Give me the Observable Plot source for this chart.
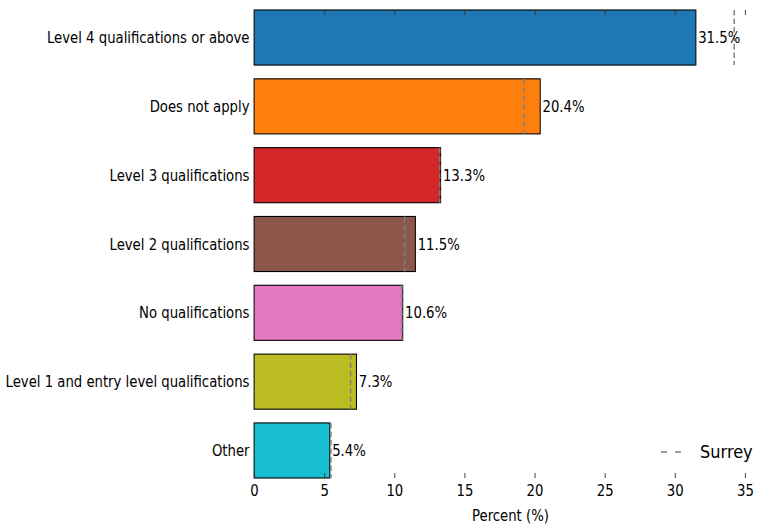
<!DOCTYPE html>
<html>
<head>
<meta charset="utf-8">
<script src="https://cdn.jsdelivr.net/npm/d3@7"></script>
<script src="https://cdn.jsdelivr.net/npm/@observablehq/plot@0.6"></script>
<style>
  html, body { margin: 0; padding: 0; background: #fff; }
  #wrap { position: relative; width: 774px; height: 532px; font-family: "DejaVu Sans Condensed", "DejaVu Sans", sans-serif; font-stretch: condensed; overflow: hidden; }
  #legend { position: absolute; left: 658px; top: 441px; font-size: 18px; display: flex; align-items: center; color: #000; white-space: nowrap; }
  #legend span { margin-left: 16px; }
</style>
</head>
<body>
<div id="wrap">
  <div id="chart"></div>
  <div id="legend"><svg width="26" height="10"><line x1="3" y1="5" x2="24" y2="5" stroke="#808080" stroke-width="1.5" stroke-dasharray="6,8"></line></svg><span>Surrey</span></div>
</div>
<script>
const categories = [
  "Level 4 qualifications or above",
  "Does not apply",
  "Level 3 qualifications",
  "Level 2 qualifications",
  "No qualifications",
  "Level 1 and entry level qualifications",
  "Other"
];
const values = [31.5, 20.4, 13.3, 11.5, 10.6, 7.3, 5.4];
const surrey = [34.2, 19.2, 13.2, 10.7, 10.5, 6.85, 5.45];
const colors = ["#1f77b4", "#ff7f0e", "#d62728", "#8c564b", "#e377c2", "#bcbd22", "#17becf"];
const xTicks = [0, 5, 10, 15, 20, 25, 30, 35];
const xMax = 36.5;

const data = categories.map((c, i) => ({category: c, value: values[i], surrey: surrey[i], color: colors[i]}));

// The reference is slightly compressed horizontally; draw on a wider canvas and squeeze it.
const SX = 0.92;
const W = 774, H = 532, mt = 10, mb = 54;
const Wi = Math.round(W / SX);
const inner = H - mt - mb;

const chart = Plot.plot({
  width: Wi,
  height: H,
  marginLeft: 254 / SX,
  marginRight: 8 / SX,
  marginTop: mt,
  marginBottom: mb,
  style: {fontFamily: '"DejaVu Sans Condensed", "DejaVu Sans", sans-serif', fontStretch: "condensed", fontSize: "16px", color: "#000", overflow: "visible"},
  x: {domain: [0, xMax], ticks: xTicks, label: "Percent (%)"},
  y: {domain: categories, paddingInner: 0.2, paddingOuter: 0, round: false, label: null},
  marks: [
    Plot.barX(data, {x: "value", y: "category", fill: "color", stroke: "#000", strokeWidth: 1.1}),
    Plot.tickX(data, {x: "surrey", y: "category", stroke: "#808080", strokeWidth: 1.6, strokeDasharray: "5.5,3"}),
    Plot.text(data, {x: "value", y: "category", text: d => d.value.toFixed(1) + "%", textAnchor: "start", dx: 2, fontSize: 16}),
    Plot.tickX(xTicks, {x: d => d, insetTop: inner - 5, stroke: "#333"}),
    Plot.tickX(xTicks, {x: d => d, insetBottom: inner - 5, stroke: "#333"}),
    Plot.axisX({ticks: xTicks, tickSize: 0, tickPadding: 6, fontSize: 16, label: "Percent (%)", labelAnchor: "center", labelArrow: "none", labelOffset: 42}),
    Plot.axisY({tickSize: 0, tickPadding: 5.5, fontSize: 16, label: null})
  ]
});
chart.setAttribute("width", W);
chart.setAttribute("height", H);
chart.setAttribute("viewBox", `0 0 ${Wi} ${H}`);
chart.setAttribute("preserveAspectRatio", "none");
chart.style.width = W + "px";
chart.style.height = H + "px";
chart.style.maxWidth = "none";
document.getElementById("chart").appendChild(chart);
</script>
</body>
</html>
